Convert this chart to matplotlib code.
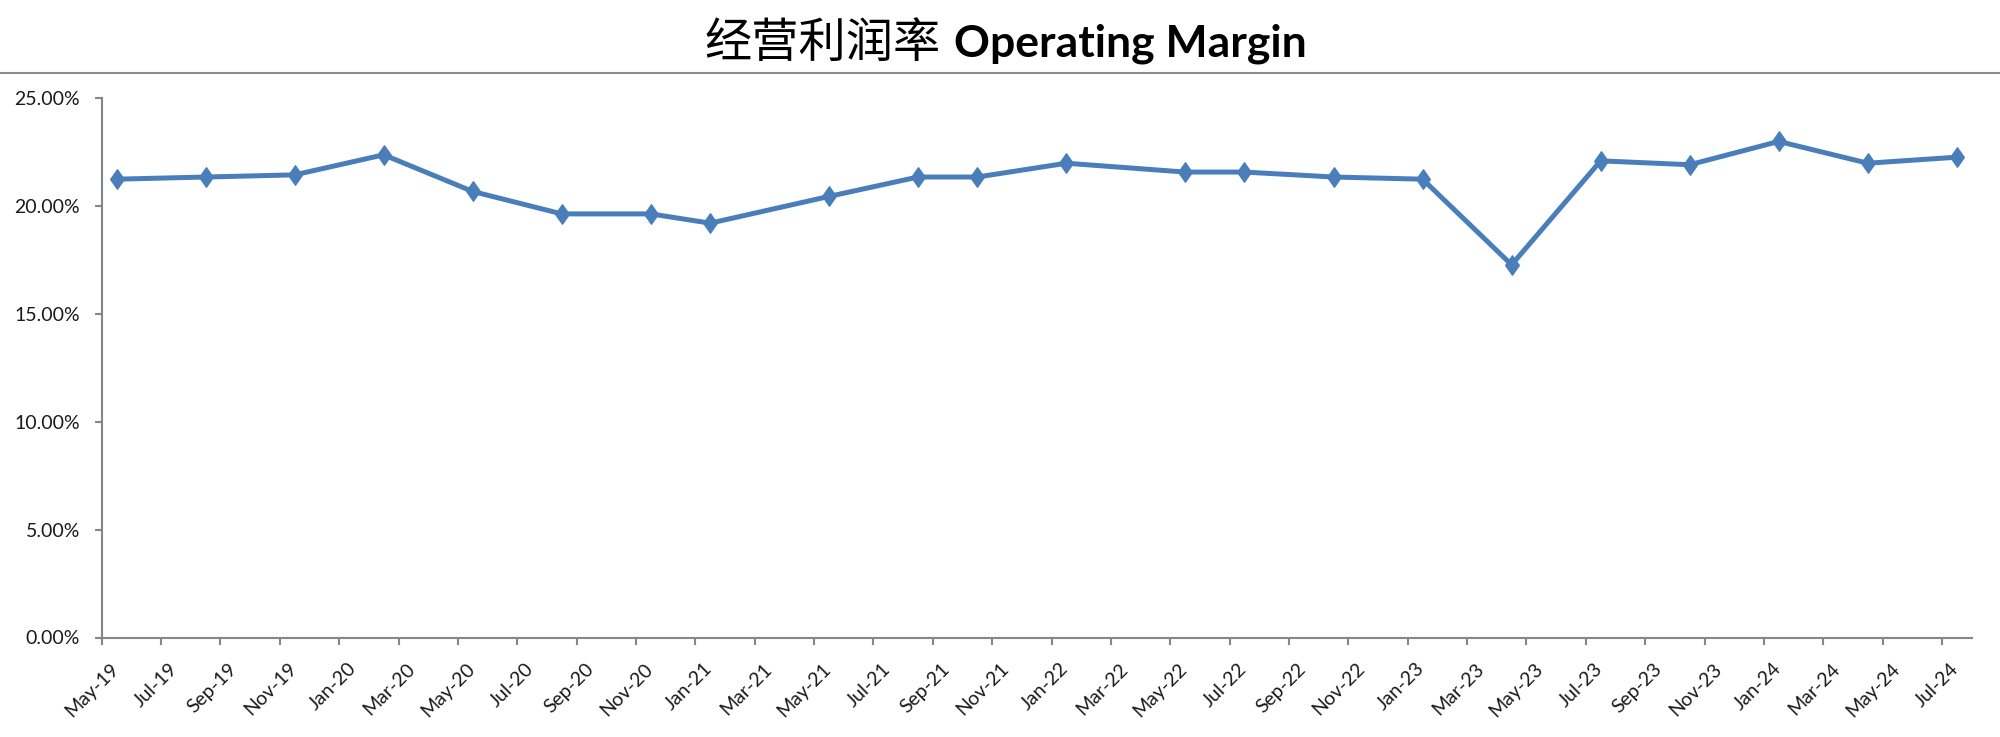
import matplotlib
matplotlib.use('Agg')
import matplotlib.pyplot as plt
import matplotlib.transforms as mtransforms
from matplotlib.lines import Line2D
from matplotlib.path import Path
from matplotlib.ticker import FixedLocator, FuncFormatter
import pandas as pd

# ---- data ----
months = ['2019-05', '2019-08', '2019-11', '2020-02', '2020-05', '2020-08',
          '2020-11', '2021-01', '2021-05', '2021-08', '2021-10', '2022-01',
          '2022-05', '2022-07', '2022-10', '2023-01', '2023-04', '2023-07',
          '2023-10', '2024-01', '2024-04', '2024-07']
margin_pct = [21.25, 21.35, 21.45, 22.38, 20.68, 19.64,
              19.64, 19.21, 20.45, 21.35, 21.35, 21.99,
              21.58, 21.58, 21.35, 21.25, 17.28, 22.10,
              21.92, 23.00, 21.99, 22.27]
axis_start = '2019-05'
axis_end = '2024-07'
y_ticks = [0, 5, 10, 15, 20, 25]
title_cn = '经营利润率'
title_en = 'Operating Margin'

# ---- positions on a monthly axis (points sit in the middle of their month) ----
p0 = pd.Period(axis_start, 'M')
x_vals = [(pd.Period(m, 'M') - p0).n + 0.5 for m in months]
all_periods = pd.period_range(axis_start, axis_end, freq='M')
tick_periods = all_periods[::2]
tick_pos = [(p - p0).n for p in tick_periods]
tick_labels = [p.strftime('%b-%y') for p in tick_periods]

W, H, DPI = 2000, 737, 100
fig = plt.figure(figsize=(W / DPI, H / DPI), dpi=DPI)
fig.patch.set_facecolor('white')

ax = fig.add_axes([101.7 / W, 1 - 637.5 / H, (1971.7 - 101.7) / W, (637.5 - 98.3) / H])

diamond = Path([(0, 1), (0.7, 0), (0, -1), (-0.7, 0), (0, 1)],
               [Path.MOVETO, Path.LINETO, Path.LINETO, Path.LINETO, Path.CLOSEPOLY])
blue = '#4A7EBB'
ax.plot(x_vals, margin_pct, color=blue, lw=3.6, marker=diamond, ms=14,
        markerfacecolor=blue, markeredgecolor=blue, solid_joinstyle='round', zorder=3)

ax.set_xlim(0, len(all_periods))
ax.set_ylim(0, 25)
ax.yaxis.set_major_locator(FixedLocator(y_ticks))
ax.yaxis.set_major_formatter(FuncFormatter(lambda v, p: f'{v:.2f}%'))
ax.xaxis.set_major_locator(FixedLocator(tick_pos))
ax.set_xticklabels(tick_labels)

axis_col = '#868686'
for s in ['top', 'right']:
    ax.spines[s].set_visible(False)
for s in ['left', 'bottom']:
    ax.spines[s].set_color(axis_col)
    ax.spines[s].set_linewidth(1.5)

ax.tick_params(axis='both', direction='out', length=5, width=1.5, color=axis_col,
               labelcolor='#1a1a1a', labelsize=14)
ax.tick_params(axis='y', pad=10.5)
ax.tick_params(axis='x', pad=15.5)

for lbl in ax.get_yticklabels():
    lbl.set_fontfamily('Lato')
offset = mtransforms.ScaledTranslation(14 / DPI, 0, fig.dpi_scale_trans)
for lbl in ax.get_xticklabels():
    lbl.set_fontfamily('Lato')
    lbl.set_rotation(45)
    lbl.set_ha('right')
    lbl.set_va('center')
    lbl.set_rotation_mode('anchor')
    lbl.set_transform(lbl.get_transform() + offset)

# ---- title ----
base_y = 1 - 57 / H
fig.text(941 / W, base_y, title_cn, ha='right', va='baseline', fontsize=34,
         family=['Noto Sans CJK SC', 'DejaVu Sans'], color='#000000')
fig.text(954 / W, base_y, title_en, ha='left', va='baseline', fontsize=32,
         weight='bold', family='Lato', color='#000000')
fig.add_artist(Line2D([0, 1], [1 - 73.3 / H, 1 - 73.3 / H], transform=fig.transFigure,
                      color='#8c8c8c', lw=1.5))

fig.savefig('out.png', dpi=DPI, facecolor='white')
